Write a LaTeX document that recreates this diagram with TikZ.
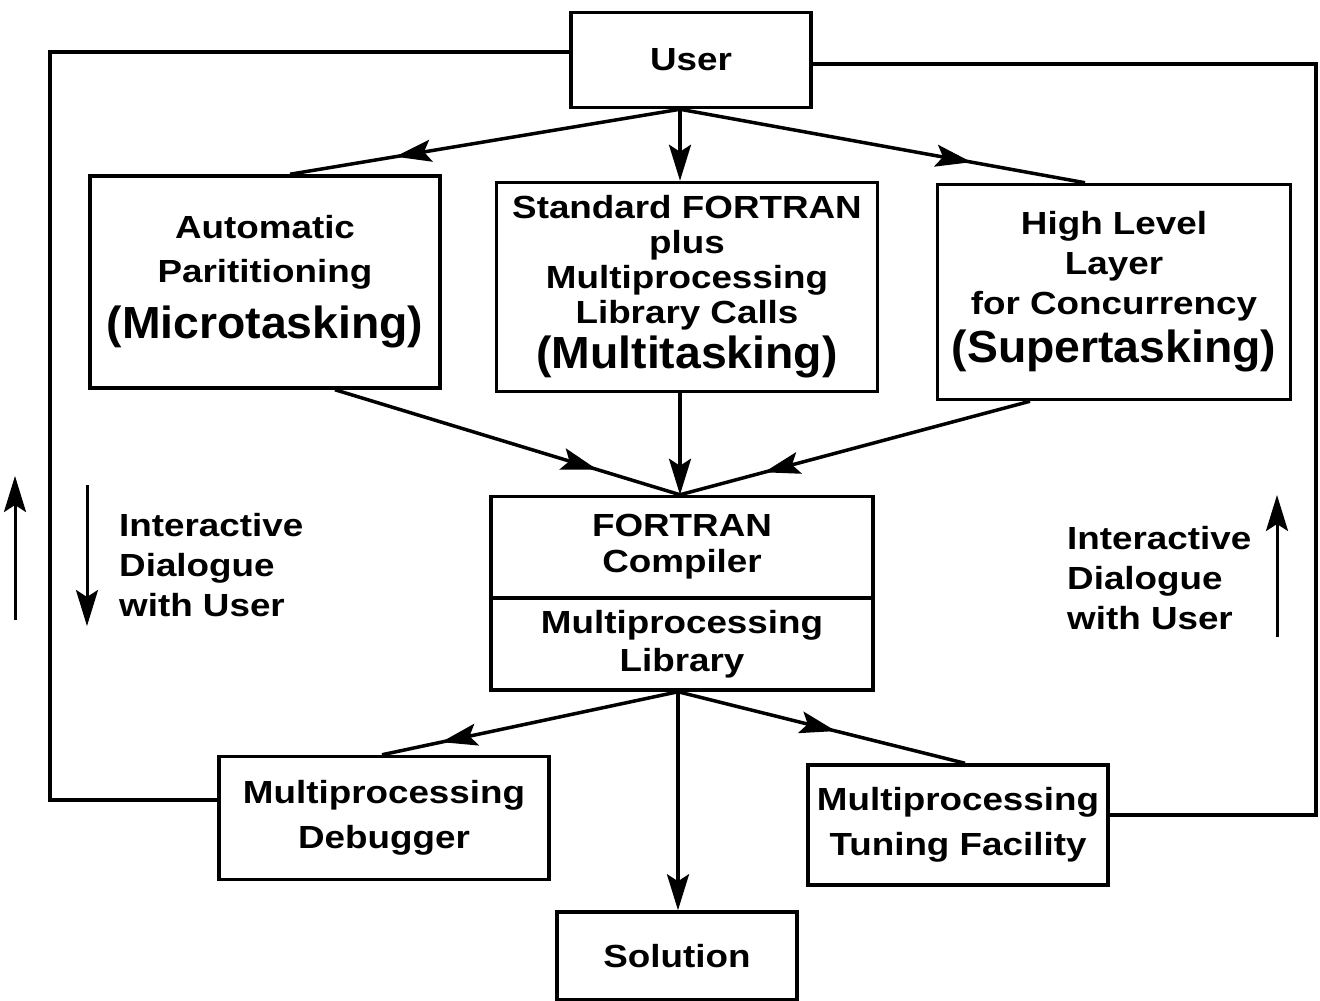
\documentclass[tikz,border=0pt]{standalone}
\usepackage{fontspec}
\setmainfont{Liberation Sans}[FakeStretch=1.15]
\newfontfamily\bigfont{Liberation Sans}[FakeStretch=1.03]
\usepackage{tikz}
\usetikzlibrary{arrows.meta,positioning,calc,decorations.markings}

\newcommand{\bigtask}[1]{{\bigfont\bfseries\fontsize{45}{48}\selectfont #1}}

\begin{document}
\begin{tikzpicture}[x=1pt,y=-1pt,>={Stealth[length=36pt,width=22pt,inset=7pt]},
    midflow/.style={line width=3.5pt,postaction={decorate},
      decoration={markings,mark=at position #1 with {\arrow{>}}}}]
  \tikzstyle{box}=[draw,line width=3.5pt,inner sep=0pt,align=center,font=\bfseries\fontsize{32}{40}\selectfont]
  \tikzstyle{flow}=[->,line width=3.5pt]
  \tikzstyle{dialog}=[inner sep=0pt,align=left,anchor=north west,font=\bfseries\fontsize{32}{40}\selectfont]
  \useasboundingbox (0,0) rectangle (1320,1001);

  % boxes
  \node[box,minimum width=240pt,minimum height=95pt] (user) at (691,60) {User};
  \node[box,minimum width=350pt,minimum height=212pt,font=\bfseries\fontsize{32}{44}\selectfont] (auto) at (265,282)
    {Automatic\\Parititioning\\[12pt]\bigtask{(Microtasking)}};
  \node[box,minimum width=381pt,minimum height=209pt,font=\bfseries\fontsize{32}{35}\selectfont] (std) at (687,287)
    {Standard FORTRAN\\plus\\Multiprocessing\\Library Calls\\[5pt]\bigtask{(Multitasking)}};
  \node[box,minimum width=353pt,minimum height=215pt] (high) at (1114,292)
    {High Level\\Layer\\for Concurrency\\[8pt]\bigtask{(Supertasking)}};
  \node[box,minimum width=382pt,minimum height=101pt,font=\bfseries\fontsize{32}{36}\selectfont] (comp) at (682,547)
    {FORTRAN\\Compiler};
  \node[box,minimum width=382pt,minimum height=92pt,font=\bfseries\fontsize{32}{38}\selectfont] (lib) at (682,644)
    {Multiprocessing\\Library};
  \node[box,minimum width=330pt,minimum height=123pt,font=\bfseries\fontsize{32}{45}\selectfont] (debug) at (384,818)
    {Multiprocessing\\Debugger};
  \node[box,minimum width=300pt,minimum height=120pt,font=\bfseries\fontsize{32}{45}\selectfont] (tune) at (958,825)
    {Multiprocessing\\Tuning Facility};
  \node[box,minimum width=240pt,minimum height=88pt] (sol) at (677,956) {Solution};

  % hubs where the arrows meet
  \coordinate (uhub) at ([xshift=-11pt]user.south);
  \coordinate (chub) at ([xshift=-2pt]comp.north);
  \coordinate (lhub) at ([xshift=-4pt]lib.south);
  \coordinate (lcorner) at (50,800);
  \coordinate (rcorner) at (1316,815);

  % from the user
  \draw[midflow=0.73] (uhub) -- ([xshift=25pt]auto.north);
  \draw[flow] (uhub) -- (uhub |- std.north);
  \draw[midflow=0.72] (uhub) -- ([xshift=-29pt]high.north);

  % into the compiler
  \draw[midflow=0.76] ([xshift=70pt]auto.south) -- (chub);
  \draw[flow] (chub |- std.south) -- (chub);
  \draw[midflow=0.76] ([xshift=-84pt]high.south) -- (chub);

  % out of the library
  \draw[midflow=0.8] (lhub) -- ([xshift=-2pt]debug.north);
  \draw[midflow=0.55] (lhub) -- ([xshift=7pt]tune.north);
  \draw[flow] (lhub) -- (lhub |- sol.north);

  % dialogue loops
  \draw[line width=3.5pt] ([yshift=8pt]user.west) -| (lcorner) -- (lcorner -| debug.west);
  \draw[line width=3.5pt] ([yshift=-4pt]user.east) -| (rcorner) -- (rcorner -| tune.east);

  \draw[->,line width=3pt] (15,620) -- (15,476);
  \draw[->,line width=3pt] (87,485) -- (87,626);
  \draw[->,line width=3pt] (1277,637) -- (1277,495);

  \node[dialog] (dlgleft) at (119,513) {Interactive\\Dialogue\\with User};
  \node[dialog] (dlgright) at (1067,526) {Interactive\\Dialogue\\with User};
\end{tikzpicture}
\end{document}
